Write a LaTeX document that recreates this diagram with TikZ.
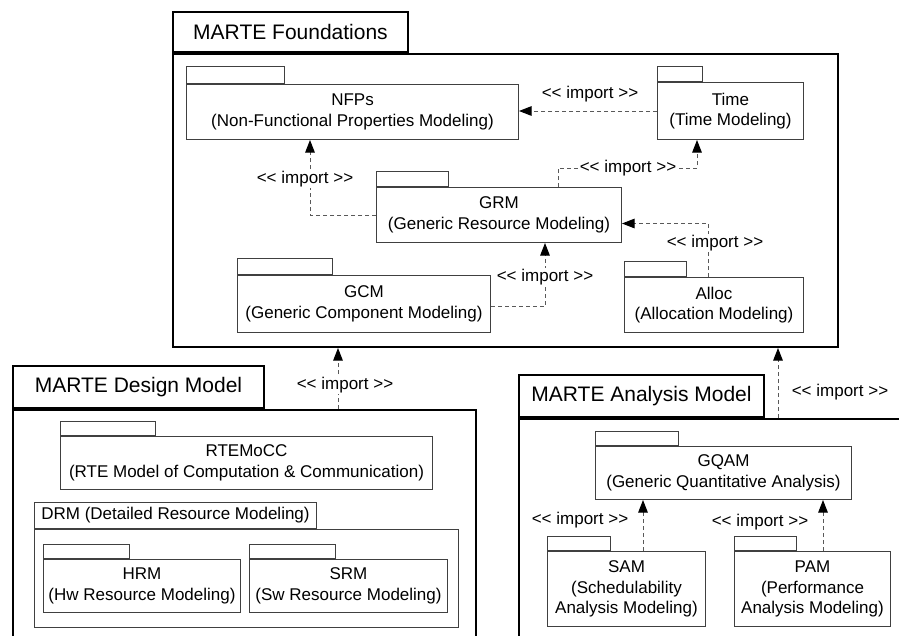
\documentclass[tikz,border=0pt]{standalone}
\usepackage{fontspec}
\setmainfont{Liberation Sans}
\usetikzlibrary{arrows.meta}
% stereotype text, with kerns so the angle brackets stay separate glyphs
\newcommand{\importtxt}{<\kern0pt< import >\kern0pt>}
\begin{document}
\begin{tikzpicture}[x=1pt,y=-1pt,
  txt/.style={font=\fontsize{17}{20.5}\selectfont},
  frametab/.style={draw=black, line width=2pt, fill=white, inner sep=0pt,
    font=\fontsize{21}{24}\selectfont, anchor=south west},
  framebody/.style={draw=black, line width=2pt, inner sep=0pt, anchor=north west},
  pkgbody/.style={draw=black!75, line width=1pt, fill=white, inner sep=0pt,
    anchor=north west, align=center, txt},
  pkgtab/.style={draw=black!75, line width=1pt, fill=white, inner sep=0pt,
    anchor=south west, txt},
  imp/.style={draw=black!65, line width=1pt, dash pattern=on 4pt off 3pt,
    -{Triangle[length=12.5pt,width=9.5pt,color=black]}},
  implabel/.style={txt, fill=white, inner sep=1pt}]

\useasboundingbox (0,0) rectangle (899,635);
\clip (0,0) rectangle (899,635);

% ---- top-level frames ----
\node[framebody, minimum width=665pt, minimum height=293pt] (found) at (172,53) {};
\node[frametab, minimum width=235pt, minimum height=40pt] (foundtab) at (found.north west) {MARTE Foundations};

\node[framebody, minimum width=463pt, minimum height=260pt] (design) at (12,409) {};
\node[frametab, minimum width=251pt, minimum height=42pt] (designtab) at (design.north west) {MARTE Design Model};

\node[framebody, minimum width=420pt, minimum height=260pt] (anal) at (518,418) {};
\node[frametab, minimum width=245pt, minimum height=42pt] (analtab) at (anal.north west) {MARTE Analysis Model};

% ---- foundation packages ----
\node[pkgbody, minimum width=332pt, minimum height=55pt] (nfp) at (186,84) {NFPs\\(Non-Functional Properties Modeling)};
\node[pkgtab, minimum width=98pt, minimum height=17pt] (nfptab) at (nfp.north west) {};

\node[pkgbody, minimum width=146pt, minimum height=57pt] (time) at (657,82) {Time\\(Time Modeling)};
\node[pkgtab, minimum width=45pt, minimum height=15pt] (timetab) at (time.north west) {};

\node[pkgbody, minimum width=245pt, minimum height=55pt] (grm) at (376,187) {GRM\\(Generic Resource Modeling)};
\node[pkgtab, minimum width=72pt, minimum height=15pt] (grmtab) at (grm.north west) {};

\node[pkgbody, minimum width=253pt, minimum height=57pt] (gcm) at (237,275) {GCM\\(Generic Component Modeling)};
\node[pkgtab, minimum width=95pt, minimum height=16pt] (gcmtab) at (gcm.north west) {};

\node[pkgbody, minimum width=179pt, minimum height=55pt] (alloc) at (624,277) {Alloc\\(Allocation Modeling)};
\node[pkgtab, minimum width=62pt, minimum height=15pt] (alloctab) at (alloc.north west) {};

% ---- design model packages ----
\node[pkgbody, minimum width=372pt, minimum height=53pt] (rte) at (60,436) {RTEMoCC\\(RTE Model of Computation \& Communication)};
\node[pkgtab, minimum width=95pt, minimum height=14pt] (rtetab) at (rte.north west) {};

\node[pkgbody, minimum width=424pt, minimum height=98pt] (drm) at (34,529) {};
\node[pkgtab, minimum width=282pt, minimum height=26pt] (drmtab) at (drm.north west) {DRM (Detailed Resource Modeling)};

\node[pkgbody, minimum width=197pt, minimum height=53pt] (hrm) at (43,559) {HRM\\(Hw Resource Modeling)};
\node[pkgtab, minimum width=86pt, minimum height=14pt] (hrmtab) at (hrm.north west) {};

\node[pkgbody, minimum width=198pt, minimum height=53pt] (srm) at (249,559) {SRM\\(Sw Resource Modeling)};
\node[pkgtab, minimum width=86pt, minimum height=14pt] (srmtab) at (srm.north west) {};

% ---- analysis model packages ----
\node[pkgbody, minimum width=256pt, minimum height=53pt] (gqam) at (595,446) {GQAM\\(Generic Quantitative Analysis)};
\node[pkgtab, minimum width=83pt, minimum height=14pt] (gqamtab) at (gqam.north west) {};

\node[pkgbody, minimum width=158pt, minimum height=75pt] (sam) at (547,551) {SAM\\(Schedulability\\Analysis Modeling)};
\node[pkgtab, minimum width=63pt, minimum height=14pt] (samtab) at (sam.north west) {};

\node[pkgbody, minimum width=156pt, minimum height=75pt] (pam) at (734,551) {PAM\\(Performance\\Analysis Modeling)};
\node[pkgtab, minimum width=62pt, minimum height=14pt] (pamtab) at (pam.north west) {};

% ---- import dependencies ----
\draw[imp] (time.west) -- (time.west -| nfp.east);
\node[implabel] (l1) at (590,94) {\importtxt};

\draw[imp] (grm.west) -| ([xshift=124pt]nfp.south west);
\node[implabel] (l2) at (305,179) {\importtxt};

\draw[imp] ([xshift=182pt]grm.north west) -- ++(0,-19) -| ([xshift=40pt]time.south west);
\node[implabel] (l3) at (628,168) {\importtxt};

\draw[imp] ([xshift=84pt]alloc.north west) |- ([yshift=-8.5pt]grm.east);
\node[implabel] (l4) at (715,243) {\importtxt};

\draw[imp] ([yshift=-2.5pt]gcm.east) -| ([xshift=169pt]grm.south west);
\node[implabel] (l5) at (545,277) {\importtxt};

\draw[imp] ([xshift=326pt]design.north west) coordinate (dsrc) -- (dsrc |- found.south);
\node[implabel] (l6) at (345,385) {\importtxt};

\draw[imp] ([xshift=260pt]anal.north west) coordinate (asrc) -- (asrc |- found.south);
\node[implabel] (l7) at (840,392) {\importtxt};

\draw[imp] ([xshift=96pt]sam.north west) coordinate (ssrc) -- (ssrc |- gqam.south);
\node[implabel] (l8) at (580,520) {\importtxt};

\draw[imp] ([xshift=89pt]pam.north west) coordinate (psrc) -- (psrc |- gqam.south);
\node[implabel] (l9) at (760,522) {\importtxt};

\end{tikzpicture}
\end{document}
